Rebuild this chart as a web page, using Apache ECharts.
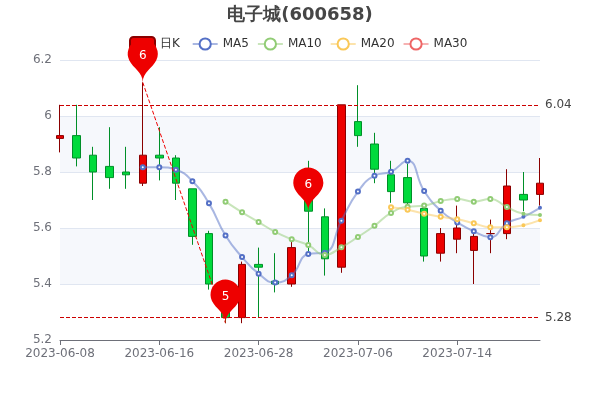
<!DOCTYPE html>
<html>
<head>
<meta charset="utf-8">
<style>
html, body { margin: 0; padding: 0; background: #fff; }
#main { width: 600px; height: 400px; }
</style>
<script src="https://cdn.jsdelivr.net/npm/echarts@6/dist/echarts.min.js"></script>
</head>
<body>
<div id="main"></div>
<script>
var dates = ["2023-06-08","2023-06-09","2023-06-12","2023-06-13","2023-06-14","2023-06-15","2023-06-16","2023-06-19","2023-06-20","2023-06-21","2023-06-26","2023-06-27","2023-06-28","2023-06-29","2023-06-30","2023-07-03","2023-07-04","2023-07-05","2023-07-06","2023-07-07","2023-07-10","2023-07-11","2023-07-12","2023-07-13","2023-07-14","2023-07-17","2023-07-18","2023-07-19","2023-07-20","2023-07-21"];
// open, close, low, high
var kdata = [
  [5.92,5.93,5.87,6.04],[5.93,5.85,5.82,6.04],[5.86,5.80,5.70,5.89],[5.82,5.78,5.74,5.96],[5.80,5.79,5.74,5.89],
  [5.76,5.86,5.75,6.12],[5.86,5.85,5.77,5.96],[5.85,5.76,5.70,5.86],[5.74,5.57,5.54,5.74],[5.58,5.40,5.38,5.59],
  [5.32,5.28,5.26,5.40],[5.28,5.47,5.26,5.48],[5.47,5.46,5.28,5.53],[5.41,5.40,5.37,5.51],[5.40,5.53,5.39,5.55],
  [5.70,5.66,5.50,5.84],[5.64,5.49,5.43,5.67],[5.46,6.04,5.44,6.04],[5.98,5.93,5.89,6.11],[5.90,5.81,5.76,5.94],
  [5.79,5.73,5.69,5.84],[5.78,5.69,5.68,5.83],[5.67,5.50,5.48,5.68],[5.51,5.58,5.48,5.60],[5.56,5.60,5.51,5.68],
  [5.52,5.57,5.40,5.58],[5.58,5.58,5.51,5.63],[5.58,5.75,5.56,5.81],[5.72,5.70,5.66,5.80],[5.72,5.76,5.68,5.85]
];
var ma5 = ["-","-","-","-","-",5.817,5.817,5.808,5.767,5.688,5.573,5.496,5.437,5.405,5.431,5.507,5.512,5.626,5.730,5.787,5.801,5.840,5.732,5.662,5.620,5.588,5.567,5.617,5.640,5.672];
var ma10 = ["-","-","-","-","-","-","-","-","-","-",5.694,5.656,5.621,5.586,5.560,5.539,5.504,5.531,5.568,5.608,5.654,5.676,5.680,5.696,5.704,5.694,5.704,5.675,5.651,5.646];
var ma20 = ["-","-","-","-","-","-","-","-","-","-","-","-","-","-","-","-","-","-","-","-",5.674,5.665,5.651,5.640,5.631,5.617,5.603,5.603,5.610,5.628];
var ma30 = dates.map(function () { return "-"; });
var maxClose = 6.04;
var minClose = 5.28;
var pinHigh = ["2023-06-15", 6.12, 6];
var pinMid = ["2023-07-03", 5.66, 6];
var pinLow = ["2023-06-26", 5.26, 5];

var upColor = "#ec0000", upBorder = "#8A0000";
var downColor = "#00da3c", downBorder = "#008F28";

function maSeries(name, values, color, smallFrom) {
  return {
    name: name,
    type: "line",
    data: values.map(function (v, i) {
      return i >= smallFrom ? { value: v, symbolSize: 2 } : v;
    }),
    smooth: true,
    symbolSize: 4,
    showAllSymbol: true,
    itemStyle: { color: color },
    lineStyle: { width: 2, opacity: 0.5, color: color },
    animation: false
  };
}

var myChart = echarts.init(document.getElementById("main"));
myChart.setOption({
  animation: false,
  textStyle: { fontFamily: "DejaVu Sans" },
  color: ["#ec0000", "#5470c6", "#91cc75", "#fac858", "#ee6666"],
  title: {
    text: "电子城(600658)",
    left: "center",
    top: 1,
    textStyle: { fontFamily: "DejaVu Sans", fontSize: 18, color: "#464646" }
  },
  legend: {
    data: ["日K", "MA5", "MA10", "MA20", "MA30"],
    top: 31,
    left: 124,
    // trailing space keeps the gap after the first item
    formatter: function (name) { return name === "日K" ? name + " " : name; },
    textStyle: { fontFamily: "DejaVu Sans", color: "#333" }
  },
  grid: { left: 60, right: 60, top: 60, bottom: 60 },
  xAxis: {
    type: "category",
    data: dates,
    boundaryGap: false,
    axisLine: { lineStyle: { color: "#6E7079" } },
    axisTick: { alignWithLabel: true, lineStyle: { color: "#6E7079" } },
    axisLabel: { interval: 5, hideOverlap: false, color: "#6E7079", fontFamily: "DejaVu Sans", margin: 8 }
  },
  yAxis: {
    type: "value",
    min: 5.2,
    max: 6.2,
    interval: 0.2,
    axisLine: { show: false },
    axisTick: { show: false },
    axisLabel: { color: "#6E7079", fontFamily: "DejaVu Sans" },
    splitLine: { lineStyle: { color: "#E0E6F1" } },
    splitArea: { show: true, areaStyle: { color: ["rgba(255,255,255,0)", "rgba(210,219,238,0.2)"] } }
  },
  series: [
    {
      name: "日K",
      type: "candlestick",
      data: kdata,
      barWidth: 8,
      itemStyle: { color: upColor, color0: downColor, borderColor: upBorder, borderColor0: downBorder },
      markPoint: {
        label: { color: "#fff", fontFamily: "DejaVu Sans" },
        itemStyle: { color: "#ee0000", borderWidth: 0 },
        data: [
          { coord: pinHigh.slice(0, 2), value: pinHigh[2] },
          { coord: pinLow.slice(0, 2), value: pinLow[2] },
          { coord: pinMid.slice(0, 2), value: pinMid[2] }
        ]
      },
      markLine: {
        symbol: "none",
        animation: false,
        lineStyle: { color: "#cc0000", type: "dashed", width: 1 },
        label: { color: "#464646", position: "end", fontFamily: "DejaVu Sans" },
        data: [
          { yAxis: maxClose, lineStyle: { color: "#cc0000", type: "dashed", width: 1 } },
          { yAxis: minClose, lineStyle: { color: "#cc0000", type: "dashed", width: 1 } },
          [
            { coord: pinHigh.slice(0, 2), lineStyle: { color: "#ee0000", type: "dashed", width: 1 }, label: { show: false } },
            { coord: pinLow.slice(0, 2) }
          ]
        ]
      }
    },
    maSeries("MA5", ma5, "#5470c6", 28),
    maSeries("MA10", ma10, "#91cc75", 28),
    maSeries("MA20", ma20, "#fac858", 28),
    maSeries("MA30", ma30, "#ee6666", 28)
  ]
});
</script>
</body>
</html>
